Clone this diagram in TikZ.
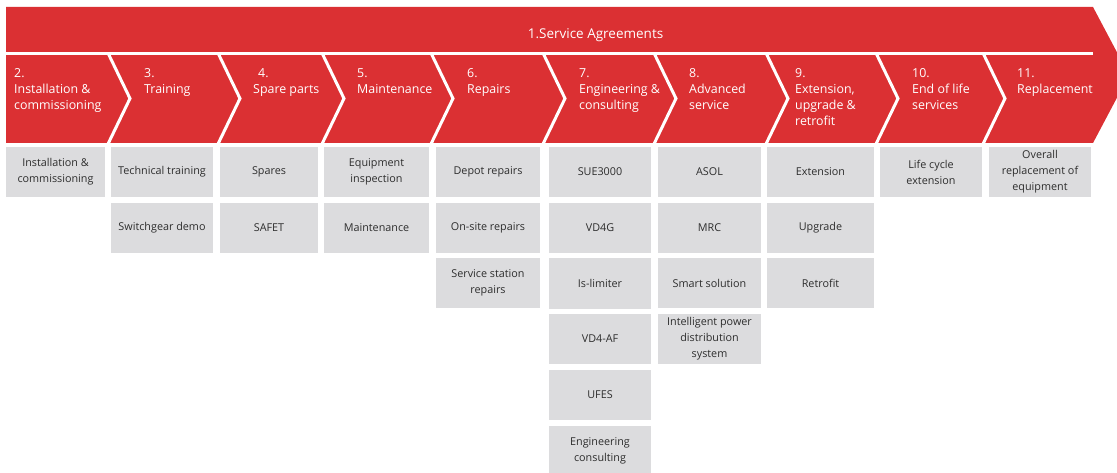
\documentclass[tikz,border=0pt]{standalone}
\usepackage{fontspec}
\setmainfont{Open Sans}
\definecolor{abbred}{RGB}{219,48,51}
\definecolor{boxgray}{RGB}{220,220,222}
\definecolor{txtgray}{RGB}{45,45,45}
\begin{document}
\begin{tikzpicture}[x=1pt,y=-1pt,
 item/.style={fill=boxgray, text=txtgray, minimum height=50pt, inner sep=0pt, align=center, font=\fontsize{10.8}{16}\selectfont},
 phase/.style={anchor=north west, inner sep=0pt, align=left, text=white, font=\fontsize{12.4}{16}\selectfont},
 sepline/.style={draw=white, line width=3pt}]
\useasboundingbox (0,0) rectangle (1117,473);
\clip (0,0) rectangle (1117,473);
% big arrow
\fill[abbred] (6,7) -- (1093,7) -- (1129,75) -- (1093,143) -- (6,143) -- cycle;
\draw[sepline] (6,53.5) -- (1093,53.5);
\foreach \x in {108,218,322,431,543,654,766,876,983}
  \draw[sepline] (\x,53) -- (\x+22,98.5) -- (\x,144);
\node[text=white, font=\fontsize{13.5}{16}\selectfont, inner sep=0pt] (title) at (595.5,35) {1.Service Agreements};
% phase labels
\node[phase] (p2) at (14,68) {2.\\Installation \&\\commissioning};
\node[phase] (p3) at (144,68) {3.\\Training};
\node[phase] (p4) at (253,68) {\hspace{5pt}4.\\Spare parts};
\node[phase] (p5) at (357,68) {5.\\Maintenance};
\node[phase] (p6) at (467,68) {6.\\Repairs};
\node[phase] (p7) at (579,68) {7.\\Engineering \&\\consulting};
\node[phase] (p8) at (689,68) {8.\\Advanced\\service};
\node[phase] (p9) at (795,68) {9.\\Extension,\\upgrade \&\\retrofit};
\node[phase] (p10) at (912,68) {10.\\End of life\\services};
\node[phase] (p11) at (1017,68) {11.\\Replacement};
% column 1
\node[item, minimum width=99pt] (a1) at (55.5,172) {Installation \&\\commissioning};
% column 2
\node[item, minimum width=102pt] (b1) at (162,172) {Technical training};
\node[item, minimum width=102pt] (b2) at (162,228) {Switchgear demo};
% column 3
\node[item, minimum width=98pt] (c1) at (269,172) {Spares};
\node[item, minimum width=98pt] (c2) at (269,228) {SAFET};
% column 4
\node[item, minimum width=105pt] (d1) at (376.5,172) {Equipment\\inspection};
\node[item, minimum width=105pt] (d2) at (376.5,228) {Maintenance};
% column 5
\node[item, minimum width=104pt] (e1) at (488,172) {Depot repairs};
\node[item, minimum width=104pt] (e2) at (488,228) {On-site repairs};
\node[item, minimum width=104pt] (e3) at (488,283) {Service station\\repairs};
% column 6
\node[item, minimum width=102pt] (f1) at (600,172) {SUE3000};
\node[item, minimum width=102pt] (f2) at (600,228) {VD4G};
\node[item, minimum width=102pt] (f3) at (600,283.5) {Is-limiter};
\node[item, minimum width=102pt] (f4) at (600,339) {VD4-AF};
\node[item, minimum width=102pt] (f5) at (600,395) {UFES};
\node[item, minimum width=102pt] (f6) at (600,451) {Engineering\\consulting};
% column 7
\node[item, minimum width=103pt] (g1) at (709.5,172) {ASOL};
\node[item, minimum width=103pt] (g2) at (709.5,228) {MRC};
\node[item, minimum width=103pt] (g3) at (709.5,283) {Smart solution};
\node[item, minimum width=103pt] (g4) at (709.5,339) {Intelligent power\\distribution\\system};
% column 8
\node[item, minimum width=107pt] (h1) at (820.5,172) {Extension};
\node[item, minimum width=107pt] (h2) at (820.5,228) {Upgrade};
\node[item, minimum width=107pt] (h3) at (820.5,283) {Retrofit};
% column 9
\node[item, minimum width=102pt] (i1) at (931,172) {Life cycle\\extension};
% column 10
\node[item, minimum width=102pt] (j1) at (1040,172) {Overall\\replacement of\\equipment};
\end{tikzpicture}
\end{document}
